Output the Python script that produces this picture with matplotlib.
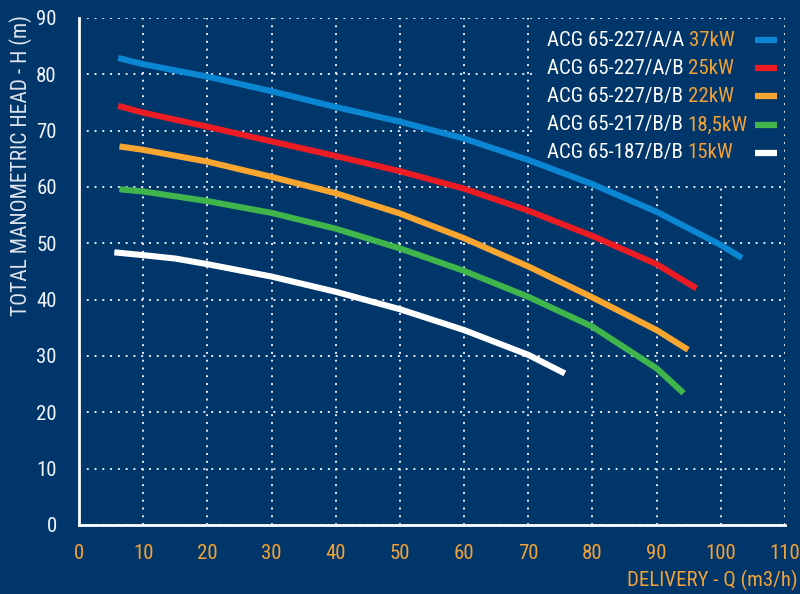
import numpy as np
import matplotlib.pyplot as plt
from matplotlib.lines import Line2D
from matplotlib.patches import Rectangle

# 数据
models = ['ACG 65-227/A/A', 'ACG 65-227/A/B', 'ACG 65-227/B/B',
          'ACG 65-217/B/B', 'ACG 65-187/B/B']
powers = ['37kW', '25kW', '22kW', '18,5kW', '15kW']
colors = ['#0a86d2', '#ec1c24', '#f9a631', '#3fb54c', '#ffffff']

q_blue = [6.1, 10, 20, 30, 40, 50, 60, 70, 80, 90, 100, 103.3]
h_blue = [82.9, 81.8, 79.6, 77.0, 74.2, 71.6, 68.6, 64.8, 60.5, 55.6, 49.7, 47.4]

q_red = [6.1, 10, 20, 30, 40, 50, 60, 70, 80, 90, 96.2]
h_red = [74.4, 73.2, 70.7, 68.1, 65.5, 62.8, 59.7, 55.8, 51.3, 46.3, 42.0]

q_orange = [6.3, 10, 20, 30, 40, 50, 60, 70, 80, 90, 94.9]
h_orange = [67.2, 66.6, 64.5, 61.8, 58.9, 55.3, 50.9, 45.9, 40.4, 34.6, 31.1]

q_green = [6.3, 10, 20, 30, 40, 50, 60, 70, 80, 90, 94.2]
h_green = [59.6, 59.2, 57.5, 55.4, 52.6, 49.1, 45.1, 40.5, 35.2, 27.8, 23.4]

q_white = [5.5, 10, 15, 20, 30, 40, 50, 60, 70, 75.7]
h_white = [48.4, 47.9, 47.3, 46.3, 44.1, 41.4, 38.3, 34.6, 30.2, 26.9]

series_q = [q_blue, q_red, q_orange, q_green, q_white]
series_h = [h_blue, h_red, h_orange, h_green, h_white]

x_ticks = list(range(0, 111, 10))
y_ticks = list(range(0, 91, 10))

bg = '#01366a'
orange_txt = '#f2a236'
white_txt = '#f1f4f8'
plt.rcParams['font.family'] = ['Roboto Condensed', 'Roboto', 'DejaVu Sans']

fig = plt.figure(figsize=(8, 5.94), dpi=100, facecolor=bg)
ax = fig.add_axes([0.09875, 0.1162, 0.8825, 0.8535], facecolor=bg)

# 网格
ax.grid(True, color='white', linestyle=(0, (1, 3)), linewidth=1.4, alpha=0.9)
ax.set_axisbelow(True)

# 图例底框 (遮住网格)
ax.add_patch(Rectangle((0.6416, 0.675), 0.355, 0.322, transform=ax.transAxes,
                       facecolor=bg, edgecolor='none', zorder=1))

# 曲线
for q, h, c in zip(series_q, series_h, colors):
    ax.plot(q, h, color=c, linewidth=4.4, solid_capstyle='butt',
            solid_joinstyle='round', zorder=3)

ax.set_xlim(0, 110)
ax.set_ylim(0, 90)
ax.set_xticks(x_ticks)
ax.set_yticks(y_ticks)
ax.tick_params(axis='both', length=0)
ax.tick_params(axis='y', colors=white_txt, labelsize=15, pad=16)
ax.tick_params(axis='x', colors=orange_txt, labelsize=15, pad=14)

for s in ['top', 'right']:
    ax.spines[s].set_visible(False)
for s in ['left', 'bottom']:
    ax.spines[s].set_color('white')
    ax.spines[s].set_linewidth(2)
    ax.spines[s].set_zorder(5)

# 轴标题
fig.text(0.026, 0.975, 'TOTAL MANOMETRIC HEAD - H (m)', rotation=90,
         ha='center', va='top', color='#dde4ee', fontsize=15.5)
fig.text(0.997, 0.005, 'DELIVERY - Q (m3/h)', ha='right', va='bottom',
         color=orange_txt, fontsize=15)

# 图例 (双色文字)
row_y = [0.9566, 0.901, 0.846, 0.789, 0.734]
for i in range(len(models)):
    t = ax.text(0.663, row_y[i], models[i] + ' ', transform=ax.transAxes,
                ha='left', va='center', color='white', fontsize=15, zorder=4)
    ax.annotate(powers[i], xy=(1, 0), xycoords=t, ha='left', va='bottom',
                color=orange_txt, fontsize=15, zorder=4)
    ax.add_line(Line2D([0.9575, 0.989], [row_y[i], row_y[i]],
                       transform=ax.transAxes, color=colors[i],
                       linewidth=4.5, solid_capstyle='butt', zorder=4))

plt.savefig('out.png', dpi=100, facecolor=bg)
